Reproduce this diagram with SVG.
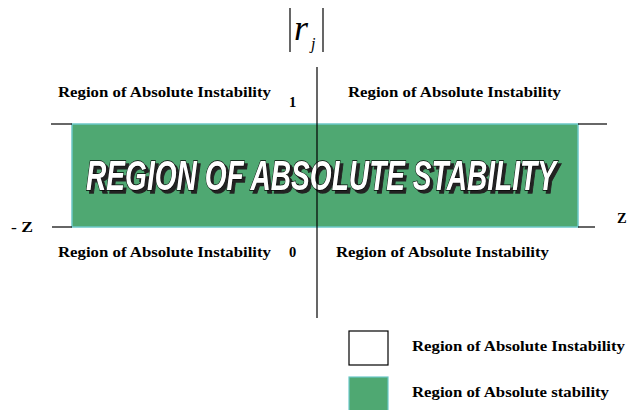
<svg xmlns="http://www.w3.org/2000/svg" width="627" height="410" viewBox="0 0 627 410">
<style>
.lbl{font-family:"Liberation Serif","Times New Roman",serif;font-weight:bold;font-size:14.5px;fill:#000}
.ln{stroke:#000;stroke-width:1.2;fill:none}
.big{font-family:"Liberation Sans",Arial,sans-serif;font-weight:bold;font-style:italic;font-size:43px}
</style>
<defs>
<filter id="shadow" filterUnits="userSpaceOnUse" x="72" y="124" width="506" height="103">
<feOffset in="SourceAlpha" dx="2.5" dy="2.5" result="off"/>
<feFlood flood-color="#222"/>
<feComposite in2="off" operator="in" result="sh"/>
<feMerge><feMergeNode in="sh"/><feMergeNode in="SourceGraphic"/></feMerge>
</filter>
</defs>
<rect width="627" height="410" fill="#fff"/>
<g id="stable-region">
<rect x="72" y="124" width="506" height="103" fill="#4fa872" stroke="#6cc8c8" stroke-width="1.5"/>
<text class="big" x="86" y="190" textLength="470" lengthAdjust="spacingAndGlyphs" fill="#fff" stroke="#000" stroke-width="1.3" paint-order="stroke" filter="url(#shadow)">REGION OF ABSOLUTE STABILITY</text>
</g>
<g id="connectors">
<line class="ln" x1="317" y1="67" x2="317" y2="318"/>
<line class="ln" x1="51" y1="124" x2="72" y2="124"/>
<line class="ln" x1="52" y1="227" x2="72" y2="227"/>
<line class="ln" x1="578" y1="124" x2="607" y2="124"/>
<line class="ln" x1="578" y1="227" x2="595" y2="227"/>
</g>
<g id="axis-label">
<line class="ln" x1="290" y1="8" x2="290" y2="52"/>
<line class="ln" x1="323" y1="8" x2="323" y2="52"/>
<text x="294" y="40" font-family="Liberation Serif,serif" font-style="italic" font-size="36">r</text>
<text x="311" y="49" font-family="Liberation Serif,serif" font-style="italic" font-size="16">j</text>
</g>
<g id="labels">
<text class="lbl" x="58" y="97" textLength="213" lengthAdjust="spacingAndGlyphs">Region of Absolute Instability</text>
<text class="lbl" x="289" y="107">1</text>
<text class="lbl" x="348" y="97" textLength="213" lengthAdjust="spacingAndGlyphs">Region of Absolute Instability</text>
<text class="lbl" x="11" y="232" textLength="22" lengthAdjust="spacingAndGlyphs">- Z</text>
<text class="lbl" x="617" y="223">Z</text>
<text class="lbl" x="58" y="257" textLength="213" lengthAdjust="spacingAndGlyphs">Region of Absolute Instability</text>
<text class="lbl" x="289" y="257">0</text>
<text class="lbl" x="336" y="257" textLength="213" lengthAdjust="spacingAndGlyphs">Region of Absolute Instability</text>
</g>
<g id="legend-instability">
<rect x="349" y="331" width="39" height="34" fill="#fff" stroke="#000" stroke-width="1.2"/>
<text class="lbl" x="412" y="351" textLength="213" lengthAdjust="spacingAndGlyphs">Region of Absolute Instability</text>
</g>
<g id="legend-stability">
<rect x="349" y="377" width="39" height="34" fill="#4fa872" stroke="#6cc8c8" stroke-width="1.2"/>
<text class="lbl" x="412" y="397" textLength="197" lengthAdjust="spacingAndGlyphs">Region of Absolute stability</text>
</g>
</svg>
